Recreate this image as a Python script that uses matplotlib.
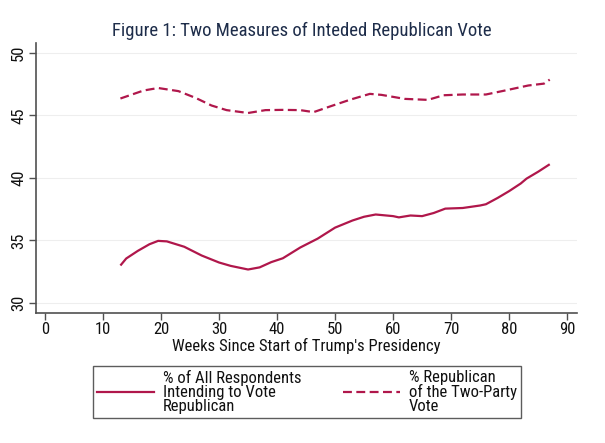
import matplotlib
matplotlib.use("Agg")
import matplotlib.pyplot as plt
from matplotlib.lines import Line2D

plt.rcParams['font.family'] = ['Roboto Condensed', 'Liberation Sans', 'DejaVu Sans']

weeks_all = [13, 14, 16, 18, 19.5, 21, 24, 27, 30, 32, 35, 37, 39, 41, 44, 47, 50, 53, 55, 57,
             60, 61, 63, 65, 67, 69, 72, 75, 76, 78, 80, 82, 83, 85, 87]
pct_all = [33.0, 33.56, 34.17, 34.7, 34.97, 34.93, 34.5, 33.8, 33.24, 32.97, 32.68, 32.85, 33.27,
           33.58, 34.44, 35.15, 36.03, 36.6, 36.9, 37.08, 36.95, 36.85, 37.0, 36.95, 37.2, 37.55,
           37.6, 37.8, 37.9, 38.4, 38.95, 39.56, 39.95, 40.5, 41.1]

weeks_two = [13, 15, 17, 19.5, 23, 26, 28.7, 31.3, 35, 38, 41, 44, 46.3, 49.3, 52.7, 56, 58,
             62, 66, 68.7, 72, 76, 79.3, 83.3, 86, 87]
pct_two = [46.36, 46.68, 47.0, 47.2, 46.95, 46.4, 45.8, 45.43, 45.2, 45.43, 45.45, 45.43, 45.27,
           45.75, 46.28, 46.73, 46.65, 46.33, 46.25, 46.62, 46.68, 46.68, 47.0, 47.4, 47.55, 47.87]

label_all = "% of All Respondents\nIntending to Vote\nRepublican"
label_two = "% Republican\nof the Two-Party\nVote"
title = "Figure 1: Two Measures of Inteded Republican Vote"
xlabel = "Weeks Since Start of Trump's Presidency"
xticks = [0, 10, 20, 30, 40, 50, 60, 70, 80, 90]
yticks = [30, 35, 40, 45, 50]

color = '#B0174B'
spine_c = '#505050'
W, H = 605, 443
FS = 12

fig = plt.figure(figsize=(W/100, H/100), dpi=100)
ax = fig.add_axes([36/W, 1 - 313/H, (577-36)/W, (313-43)/H])

ax.plot(weeks_all, pct_all, color=color, lw=1.6, solid_capstyle='butt')
ax.plot(weeks_two, pct_two, color=color, lw=1.6, ls=(0, (4, 2)))

ax.set_xlim(-1.55, 91.7)
ax.set_ylim(29.2, 50.8)
ax.set_xticks(xticks)
ax.set_yticks(yticks)
for y in yticks:
    ax.axhline(y, color='#EEEEEE', lw=0.8, zorder=0)

ax.spines['top'].set_visible(False)
ax.spines['right'].set_visible(False)
for s in ['left', 'bottom']:
    ax.spines[s].set_color(spine_c)
    ax.spines[s].set_linewidth(1.2)
ax.tick_params(axis='both', direction='out', length=5, width=1, color=spine_c,
               labelsize=FS, labelcolor='#111111')
ax.tick_params(axis='x', pad=1.5)
ax.tick_params(axis='y', pad=2)
for lab in ax.get_yticklabels():
    lab.set_rotation(90)
    lab.set_va('center')

ax.set_xlabel(xlabel, fontsize=FS, color='#111111', labelpad=1)
fig.text(302/W, 1 - 31/H, title, ha='center', va='center',
         fontsize=13.5, color='#1E2D4A')

handles = [Line2D([], [], color=color, lw=1.6),
           Line2D([], [], color=color, lw=1.6, ls=(0, (4, 2)))]
leg = fig.legend(handles, [label_all, label_two], ncol=2, loc='center',
                 bbox_to_anchor=(307/W, 1 - 392/H), frameon=True, fancybox=False,
                 fontsize=FS, handlelength=3.4, columnspacing=2.5, handletextpad=0.55,
                 borderpad=0.25, borderaxespad=0, labelspacing=0.2)
leg.get_frame().set_edgecolor('#333333')
leg.get_frame().set_linewidth(1.0)
for t in leg.get_texts():
    t.set_linespacing(0.93)
    t.set_color('#111111')

fig.savefig('out.png', dpi=100, facecolor='white')
